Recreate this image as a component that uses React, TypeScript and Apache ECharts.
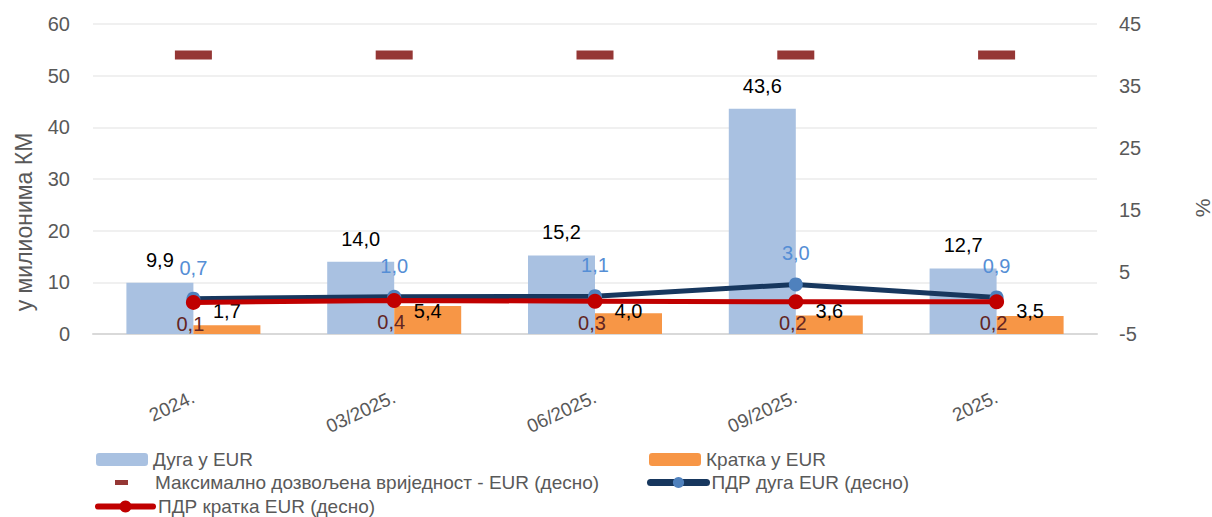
import React, { useEffect, useRef } from "react";
import * as echarts from "echarts";

const categories = ["2024.", "03/2025.", "06/2025.", "09/2025.", "2025."];
const dugaEUR = [9.9, 14.0, 15.2, 43.6, 12.7];
const kratkaEUR = [1.7, 5.4, 4.0, 3.6, 3.5];
const maxAllowedEUR = [40, 40, 40, 40, 40];
const pdrDugaEUR = [0.7, 1.0, 1.1, 3.0, 0.9];
const pdrKratkaEUR = [0.1, 0.4, 0.3, 0.2, 0.2];

const leftMin = 0;
const leftMax = 60;
const leftStep = 10;
const rightMin = -5;
const rightMax = 45;
const rightStep = 10;

const nameDuga = "Дуга у EUR";
const nameKratka = "Кратка у EUR";
const nameMax = "Максимално дозвољена вриједност - EUR (десно)";
const namePdrDuga = "ПДР дуга EUR (десно)";
const namePdrKratka = "ПДР кратка EUR (десно)";

const FONT = '"Liberation Sans", Arial, sans-serif';
const GREY = "#595959";

const fmt = (v: number) => v.toFixed(1).replace(".", ",");

export default function App() {
  const ref = useRef<HTMLDivElement>(null);
  useEffect(() => {
    if (!ref.current) return;
    const chart = echarts.init(ref.current, null, { renderer: "svg" });
    const legendText = { color: GREY, fontSize: 19, fontFamily: FONT };
    const option: any = {
      animation: false,
      backgroundColor: "#ffffff",
      textStyle: { fontFamily: FONT },
      grid: { left: 93, right: 115, top: 24, bottom: 183, containLabel: false },
      legend: [
        {
          data: [nameDuga], left: 96, top: 450, padding: 0,
          itemWidth: 52, itemHeight: 13, textStyle: legendText, selectedMode: false,
        },
        {
          data: [{ name: nameMax, icon: "rect" }], left: 115, top: 473, padding: 0,
          itemWidth: 13, itemHeight: 5, selectedMode: false,
          formatter: "{g|}{t|" + nameMax + "}",
          textStyle: { ...legendText, rich: { g: { width: 22 }, t: { ...legendText } } },
        },
        {
          data: [{ name: namePdrKratka, lineStyle: { width: 6, cap: "round" } }], left: 95, top: 497, padding: 0,
          itemWidth: 55, itemHeight: 15, textStyle: legendText, selectedMode: false,
        },
        {
          data: [nameKratka], left: 649, top: 450, padding: 0,
          itemWidth: 52, itemHeight: 13, textStyle: legendText, selectedMode: false,
        },
        {
          data: [{ name: namePdrDuga, lineStyle: { width: 7, cap: "round" } }], left: 647, top: 473, padding: 0,
          itemWidth: 56, itemHeight: 14, textStyle: legendText, selectedMode: false,
        },
      ],
      xAxis: {
        type: "category",
        data: categories,
        boundaryGap: true,
        axisLine: { show: true, lineStyle: { color: "#D9D9D9", width: 2 } },
        axisTick: { show: false },
        axisLabel: { rotate: 25, margin: 62, color: GREY, fontSize: 19, fontFamily: FONT },
        splitLine: { show: false },
      },
      yAxis: [
        {
          type: "value", min: leftMin, max: leftMax, interval: leftStep,
          axisLine: { show: false }, axisTick: { show: false },
          axisLabel: { margin: 23, color: GREY, fontSize: 20, fontFamily: FONT },
          splitLine: { show: true, lineStyle: { color: "#EBEBEB", width: 1.5 } },
        },
        {
          type: "value", min: rightMin, max: rightMax, interval: rightStep,
          axisLine: { show: false }, axisTick: { show: false },
          axisLabel: { margin: 22, color: GREY, fontSize: 20, fontFamily: FONT },
          splitLine: { show: false },
        },
      ],
      graphic: [
        {
          type: "text", x: 24, y: 222, rotation: Math.PI / 2, silent: true,
          style: { text: "у милионима КМ", fill: GREY, fontSize: 23, fontFamily: FONT, align: "center", verticalAlign: "middle" },
        },
        {
          type: "text", x: 1202, y: 208, rotation: Math.PI / 2, silent: true,
          style: { text: "%", fill: GREY, fontSize: 21, fontFamily: FONT, align: "center", verticalAlign: "middle" },
        },
      ],
      series: [
        {
          name: nameDuga, type: "bar", data: dugaEUR, yAxisIndex: 0,
          barWidth: 67, barGap: "0%",
          itemStyle: { color: "#A9C1E1" },
          label: { show: true, position: "top", distance: 13, color: "#000", fontSize: 20, fontFamily: FONT, formatter: (p: any) => fmt(p.value) },
          z: 2,
        },
        {
          name: nameKratka, type: "bar", data: kratkaEUR, yAxisIndex: 0,
          barWidth: 67, barGap: "0%",
          itemStyle: { color: "#F79646" },
          label: { show: true, position: "insideBottom", distance: 13, color: "#000", fontSize: 20, fontFamily: FONT, formatter: (p: any) => fmt(p.value) },
          z: 2,
        },
        {
          name: nameMax, type: "scatter", data: maxAllowedEUR, yAxisIndex: 1,
          symbol: "rect", symbolSize: [37, 9],
          itemStyle: { color: "#953735", opacity: 1 },
          z: 3,
        },
        {
          name: namePdrDuga, type: "line", data: pdrDugaEUR, yAxisIndex: 1,
          symbol: "circle", symbolSize: 14, showAllSymbol: true,
          lineStyle: { color: "#17375E", width: 5 },
          itemStyle: { color: "#4F81BD" },
          label: { show: true, position: "top", distance: 14, color: "#558ED5", fontSize: 20, fontFamily: FONT, formatter: (p: any) => fmt(p.value) },
          z: 4,
        },
        {
          name: namePdrKratka, type: "line", data: pdrKratkaEUR, yAxisIndex: 1,
          symbol: "circle", symbolSize: 15, showAllSymbol: true,
          lineStyle: { color: "#C00000", width: 5 },
          itemStyle: { color: "#C00000" },
          label: { show: true, position: "bottom", distance: 4, offset: [-3, 0], color: "#632523", fontSize: 20, fontFamily: FONT, formatter: (p: any) => fmt(p.value) },
          z: 5,
        },
      ],
    };
    chart.setOption(option);
    return () => chart.dispose();
  }, []);
  return (
    <div
      ref={ref}
      style={{ position: "fixed", left: 0, top: 0, width: 1212, height: 517, background: "#fff" }}
    />
  );
}
